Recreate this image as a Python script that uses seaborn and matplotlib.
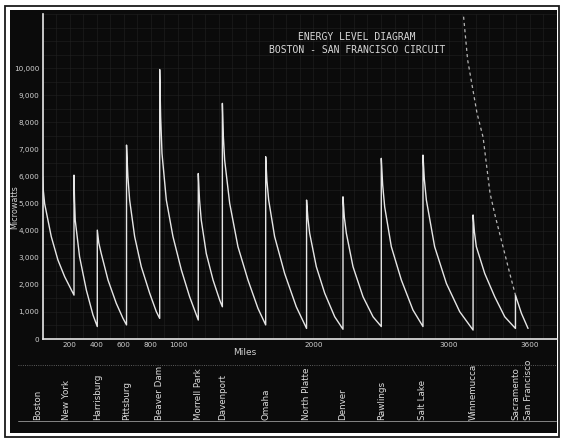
"""
Energy level diagram, Boston - San Francisco circuit
Sawtooth trace of received power along the line, one tooth per repeater station
"""

import numpy as np
import pandas as pd
import matplotlib.pyplot as plt
import seaborn as sns
from matplotlib.patches import Rectangle
from matplotlib.lines import Line2D

# ========== Data ==========
stations = ['Boston', 'New York', 'Harrisburg', 'Pittsburg', 'Beaver Dam', 'Morrell Park',
            'Davenport', 'Omaha', 'North Platte', 'Denver', 'Rawlings', 'Salt Lake',
            'Winnemucca', 'Sacramento', 'San Francisco']
station_miles = [0, 232, 404, 620, 865, 1150, 1328, 1648, 1950, 2219, 2502, 2810, 3180, 3493, 3586]

# main trace: decay from each station, vertical jump at the next one
trace_miles = [0, 5, 15, 64, 113, 163, 232,
               232, 236, 241, 273, 323, 372, 404,
               404, 415, 433, 483, 544, 594, 620,
               620, 630, 643, 680, 729, 791, 840, 865,
               865, 872, 882, 914, 963, 1025, 1086, 1150,
               1150, 1159, 1172, 1209, 1259, 1308, 1328,
               1328, 1335, 1345, 1382, 1443, 1517, 1591, 1648,
               1648, 1657, 1670, 1714, 1788, 1874, 1950,
               1950, 1960, 1973, 2022, 2084, 2158, 2219,
               2219, 2229, 2244, 2293, 2367, 2441, 2502,
               2502, 2512, 2527, 2576, 2650, 2736, 2810,
               2810, 2820, 2835, 2896, 2983, 3081, 3180,
               3180, 3190, 3204, 3266, 3340, 3414, 3493,
               3493, 3537, 3586]
trace_microwatts = [6000, 5500, 5000, 3780, 2920, 2300, 1620,
                    6050, 5100, 4390, 3040, 1810, 890, 460,
                    4020, 3550, 3160, 2180, 1320, 760, 520,
                    7160, 6000, 5130, 3780, 2670, 1690, 1010, 760,
                    9950, 8200, 6850, 5130, 3780, 2550, 1560, 700,
                    6110, 5150, 4390, 3160, 2180, 1440, 1190,
                    8700, 7500, 6600, 5010, 3410, 2180, 1130, 520,
                    6730, 5850, 5130, 3780, 2420, 1190, 390,
                    5130, 4450, 3900, 2670, 1690, 820, 360,
                    5250, 4500, 3900, 2670, 1560, 820, 460,
                    6670, 5700, 4880, 3410, 2180, 1070, 460,
                    6790, 5900, 5130, 3410, 2050, 1010, 330,
                    4580, 3950, 3410, 2420, 1560, 820, 390,
                    1620, 950, 390]

# dashed curve coming down from off the top into Sacramento
dashed_miles = [3110, 3140, 3209, 3254, 3305, 3345, 3401, 3451, 3493]
dashed_microwatts = [11900, 10300, 8340, 7450, 5390, 4510, 3410, 2420, 1620]

ytick_values = [0, 1000, 2000, 3000, 4000, 5000, 6000, 7000, 8000, 9000, 10000]
xtick_values = [200, 400, 600, 800, 1000, 2000, 3000, 3600]

trace_df = pd.DataFrame({'miles': trace_miles, 'microwatts': trace_microwatts})
dashed_df = pd.DataFrame({'miles': dashed_miles, 'microwatts': dashed_microwatts})

# ========== Figure ==========
sns.set_style("dark")
plt.rcParams['font.family'] = ['DejaVu Sans']

W, H = 562, 440
INK = '#e6e6e6'
BG = '#0b0b0b'

fig = plt.figure(figsize=(W / 100, H / 100), dpi=100, facecolor='white')


def fig_rect(x0, y0, x1, y1, **kw):
    # rectangle given in pixel coords from top-left
    r = Rectangle((x0 / W, 1 - y1 / H), (x1 - x0) / W, (y1 - y0) / H,
                  transform=fig.transFigure, **kw)
    fig.add_artist(r)
    return r


# photo frame
fig_rect(5, 6, 559, 437, facecolor='none', edgecolor='#1a1a1a', lw=1.3, zorder=-3)
fig_rect(10, 10, 557, 433, facecolor=BG, edgecolor='none', zorder=-2)

ax = fig.add_axes([42.6 / W, 1 - 339 / H, (557 - 42.6) / W, (339 - 14) / H])
ax.set_facecolor('none')

sns.lineplot(data=trace_df, x='miles', y='microwatts', sort=False, estimator=None,
             color=INK, lw=1.0, solid_joinstyle='round', ax=ax)
sns.lineplot(data=dashed_df, x='miles', y='microwatts', sort=False, estimator=None,
             color='#b5b5b5', lw=0.9, linestyle=(0, (2.5, 2.5)), ax=ax)

ax.set_xlim(0, 3800)
ax.set_ylim(0, 12000)
ax.set_yticks(ytick_values)
ax.set_yticklabels([f'{v:,}' for v in ytick_values])
ax.set_xticks(xtick_values)
ax.set_xticklabels([str(v) for v in xtick_values])
ax.tick_params(colors='#d0d0d0', labelsize=5.2, length=0, pad=2.5)
ax.set_xlabel('')
ax.set_ylabel('')

# faint graph-paper grid
ax.set_xticks(np.arange(0, 3801, 100), minor=True)
ax.set_yticks(np.arange(0, 12001, 500), minor=True)
ax.grid(True, which='both', color='#222222', lw=0.4)
ax.set_axisbelow(True)

for side in ['top', 'right']:
    ax.spines[side].set_visible(False)
for side in ['left', 'bottom']:
    ax.spines[side].set_color(INK)
    ax.spines[side].set_linewidth(1.2)

# titles and axis names
fig.text(357 / W, 1 - 37 / H, 'ENERGY LEVEL DIAGRAM', ha='center', va='center',
         family='DejaVu Sans Mono', fontsize=7, color='#d8d8d8')
fig.text(357 / W, 1 - 50 / H, 'BOSTON - SAN FRANCISCO CIRCUIT', ha='center', va='center',
         family='DejaVu Sans Mono', fontsize=7, color='#d8d8d8')
fig.text(14.5 / W, 1 - 207 / H, 'Microwatts', rotation=90, ha='center', va='center',
         fontsize=5.8, color='#d0d0d0')
fig.text(245 / W, 1 - 352 / H, 'Miles', ha='center', va='center',
         fontsize=6.5, color='#d0d0d0')

# station names panel
fig.add_artist(Line2D([18 / W, 556 / W], [1 - 365 / H] * 2, transform=fig.transFigure,
                      color='#777777', lw=0.6, ls=':'))
fig.add_artist(Line2D([18 / W, 556 / W], [1 - 421 / H] * 2, transform=fig.transFigure,
                      color='#999999', lw=0.6))

nudge_px = {'Boston': -5, 'New York': -8}
label_y = (339 - 420) / (339 - 14)
for name, m in zip(stations, station_miles):
    x = m + nudge_px.get(name, 0) / 0.1353
    ax.text(x, label_y, name, rotation=90, ha='center', va='bottom',
            transform=ax.get_xaxis_transform(), clip_on=False,
            fontsize=6.3, color='#dcdcdc')

plt.savefig('out.png', dpi=100, facecolor=fig.get_facecolor())
print("Saved: out.png")
